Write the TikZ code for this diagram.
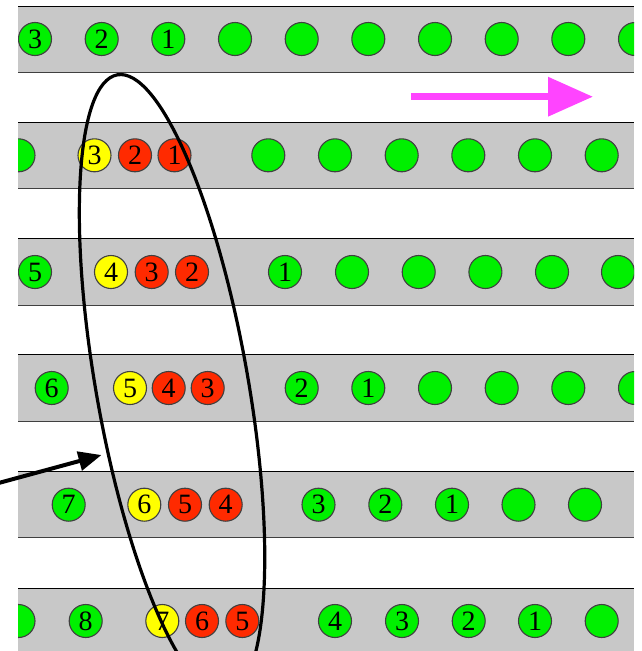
\documentclass[tikz,border=0pt]{standalone}
\usepackage{fontspec}
\setmainfont{Liberation Serif}
\usetikzlibrary{arrows.meta}
\definecolor{bandgray}{HTML}{C8C8C8}
\definecolor{ggreen}{HTML}{00F000}
\definecolor{rred}{HTML}{FF2A00}
\definecolor{yyellow}{HTML}{FFFF00}
\definecolor{mag}{HTML}{FF44FF}
\definecolor{rim}{HTML}{404040}
\newcommand{\myband}[1]{%
  \fill[bandgray] (18,#1) rectangle (634,#1+66.5);
  \draw[black, line width=1pt] (18,#1) -- (634,#1);
  \draw[rim, line width=1pt] (18,#1+66.5) -- (634,#1+66.5);
  \clip (18,#1) rectangle (634,#1+66.5);}
\begin{document}
\begin{tikzpicture}[x=1pt,y=-1pt,
  ball/.style={circle, draw=rim, line width=1.1pt, minimum size=33pt, inner sep=0pt,
    font=\fontsize{28}{28}\selectfont},
  gb/.style={ball, fill=ggreen},
  yb/.style={ball, fill=yyellow},
  rb/.style={ball, fill=rred}]
\useasboundingbox (0,0) rectangle (642,651);
\clip (0,0) rectangle (642,651);
% row 1
\begin{scope}
\myband{6}
\foreach \x/\l/\s [count=\i] in {35/3/gb,101.7/2/gb,168.3/1/gb,235/{}/gb,301.7/{}/gb,368.3/{}/gb,435/{}/gb,501.7/{}/gb,568.3/{}/gb,635/{}/gb}
  \node[\s] (a\i) at (\x,39) {\l};
\end{scope}
% row 2
\begin{scope}
\myband{122}
\foreach \x/\l/\s [count=\i] in {18.5/{}/gb,94.5/3/yb,135/2/rb,174.5/1/rb,268.3/{}/gb,335/{}/gb,401.7/{}/gb,468.3/{}/gb,535/{}/gb,601.7/{}/gb}
  \node[\s] (b\i) at (\x,155.3) {\l};
\end{scope}
% row 3
\begin{scope}
\myband{238.5}
\foreach \x/\l/\s [count=\i] in {35/5/gb,111/4/yb,151.7/3/rb,192/2/rb,285/1/gb,352/{}/gb,418.7/{}/gb,485.4/{}/gb,552/{}/gb,618/{}/gb}
  \node[\s] (c\i) at (\x,272) {\l};
\end{scope}
% row 4
\begin{scope}
\myband{354.5}
\foreach \x/\l/\s [count=\i] in {51.7/6/gb,130/5/yb,168.7/4/rb,207.7/3/rb,301.7/2/gb,368.3/1/gb,435/{}/gb,501.7/{}/gb,568.3/{}/gb,635/{}/gb}
  \node[\s] (d\i) at (\x,388) {\l};
\end{scope}
% row 5
\begin{scope}
\myband{471}
\foreach \x/\l/\s [count=\i] in {68.7/7/gb,144.3/6/yb,185/5/rb,225.7/4/rb,318.5/3/gb,385.3/2/gb,452/1/gb,518.5/{}/gb,585/{}/gb}
  \node[\s] (e\i) at (\x,504.7) {\l};
\end{scope}
% row 6
\begin{scope}
\myband{588}
\foreach \x/\l/\s [count=\i] in {18.5/{}/gb,85.7/8/gb,162.3/7/yb,202/6/rb,242.3/5/rb,335/4/gb,402/3/gb,468.7/2/gb,535/1/gb,601.7/{}/gb}
  \node[\s] (f\i) at (\x,621) {\l};
\end{scope}
% direction arrow
\coordinate (m1) at (411,96.7);
\coordinate (m2) at (593,96.7);
\draw[mag, line width=6.7pt, -{Triangle[length=45pt,width=38pt]}] (m1) -- (m2);
% ellipse
\coordinate (ec) at (172,385);
\draw[line width=3.2pt, rotate around={10:(ec)}] (ec) ellipse [x radius=76, y radius=315];
% pointer arrow
\coordinate (p1) at (-5,484);
\coordinate (p2) at (101.5,455);
\draw[line width=4pt, -{Triangle[length=23pt,width=19pt]}] (p1) -- (p2);
\end{tikzpicture}
\end{document}
